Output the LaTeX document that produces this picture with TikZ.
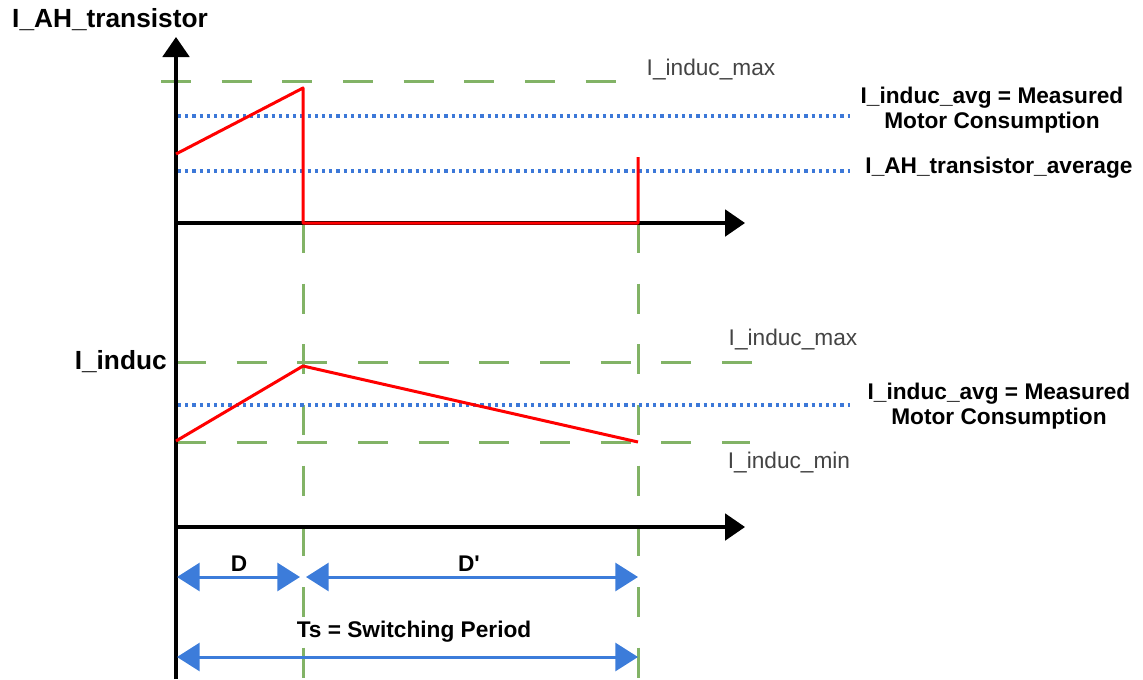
\documentclass[tikz,border=0pt]{standalone}
\usepackage{fontspec}
\setmainfont{Liberation Sans}
\newfontfamily\rawfont{Liberation Sans}[Ligatures=TeXOff]
\usetikzlibrary{arrows.meta}
\definecolor{dgreen}{HTML}{82B366}
\definecolor{dblue}{HTML}{3C78D8}
\definecolor{ablue}{HTML}{3C7CDA}
\definecolor{lgray}{HTML}{444444}
\begin{document}
\begin{tikzpicture}[x=0.75pt,y=-0.75pt,
  axisline/.style={line width=2.4pt, -{Triangle[width=20pt,length=15pt]}},
  greendash/.style={dgreen, line width=2.25pt, dash pattern=on 22.5pt off 23pt},
  bluedot/.style={dblue, line width=2.4pt, dash pattern=on 2.4pt off 3pt},
  redline/.style={red, line width=2.25pt, line join=round},
  dimarrow/.style={ablue, line width=2.25pt, {Triangle[width=21pt,length=17pt]}-{Triangle[width=21pt,length=17pt]}},
  bigbold/.style={font=\fontsize{19.7}{22}\selectfont\bfseries, inner sep=0pt},
  boldlbl/.style={font=\fontsize{17}{19}\selectfont\bfseries, inner sep=0pt, align=center},
  graylbl/.style={font=\fontsize{17}{19}\selectfont, text=lgray, inner sep=0pt}
]
\useasboundingbox (0,0) rectangle (1143,679);

% key coordinates
\coordinate (yb) at (176,679);
\coordinate (yt) at (176,37);
\coordinate (o1) at (176,223);
\coordinate (x1) at (745,223);
\coordinate (o2) at (176,527);
\coordinate (x2) at (745,527);
\coordinate (t1a) at (303,223);
\coordinate (t1b) at (303,679);
\coordinate (t2a) at (638,223);
\coordinate (t2b) at (638,679);

% green dashed reference lines
\coordinate (gm1a) at (161,81);   \coordinate (gm1b) at (616,81);
\coordinate (gm2a) at (176,362);  \coordinate (gm2b) at (755,362);
\coordinate (gn2a) at (176,442);  \coordinate (gn2b) at (750,442);
\draw[greendash] (gm1a) -- (gm1b);
\draw[greendash] (gm2a) -- (gm2b);
\draw[greendash] (gn2a) -- (gn2b);
\draw[greendash] (t1a) -- (t1b);
\draw[greendash] (t2a) -- (t2b);

% blue dotted averages
\coordinate (ba1) at (178,116); \coordinate (bb1) at (850,116);
\coordinate (ba2) at (178,171); \coordinate (bb2) at (850,171);
\coordinate (ba3) at (178,405); \coordinate (bb3) at (850,405);
\draw[bluedot] (ba1) -- (bb1);
\draw[bluedot] (ba2) -- (bb2);
\draw[bluedot] (ba3) -- (bb3);

% axes
\draw[axisline] (yb) -- (yt);
\draw[axisline] (o1) -- (x1);
\draw[axisline] (o2) -- (x2);

% red waveforms
\coordinate (r1) at (176,154);
\coordinate (r2) at (303,88);
\coordinate (r3) at (303,223);
\coordinate (r4) at (638,223);
\coordinate (r5) at (638,157);
\draw[redline] (r1) -- (r2) -- (r3) -- (r4) -- (r5);
\coordinate (s1) at (176,441);
\coordinate (s2) at (303,366);
\coordinate (s3) at (638,442);
\draw[redline] (s1) -- (s2) -- (s3);

% dimension arrows
\coordinate (da) at (177,577); \coordinate (db) at (300,577);
\coordinate (dc) at (306,577); \coordinate (dd) at (638,577);
\coordinate (ta) at (177,657); \coordinate (tb) at (638,657);
\draw[dimarrow] (da) -- (db);
\draw[dimarrow] (dc) -- (dd);
\draw[dimarrow] (ta) -- (tb);

% labels
\node[bigbold] (title) at (110,20) {I\_AH\_transistor};
\node[bigbold, anchor=east] (induc) at (167,362) {I\_induc};
\node[graylbl] (max1) at (711,70) {I\_induc\_max};
\node[graylbl] (max2) at (793,340) {I\_induc\_max};
\node[graylbl] (min2) at (789,463) {I\_induc\_min};
\node[boldlbl] (avg1) at (992,110) {I\_induc\_avg = Measured\\Motor Consumption};
\node[boldlbl] (avgt) at (999,168) {I\_AH\_transistor\_average};
\node[boldlbl] (avg2) at (999,406) {I\_induc\_avg = Measured\\Motor Consumption};
\node[boldlbl] (dl) at (239,564) {D};
\node[boldlbl] (dpl) at (469,564) {\rawfont\bfseries D'};
\node[boldlbl] (tsl) at (414,632) {Ts = Switching Period};
\end{tikzpicture}
\end{document}
